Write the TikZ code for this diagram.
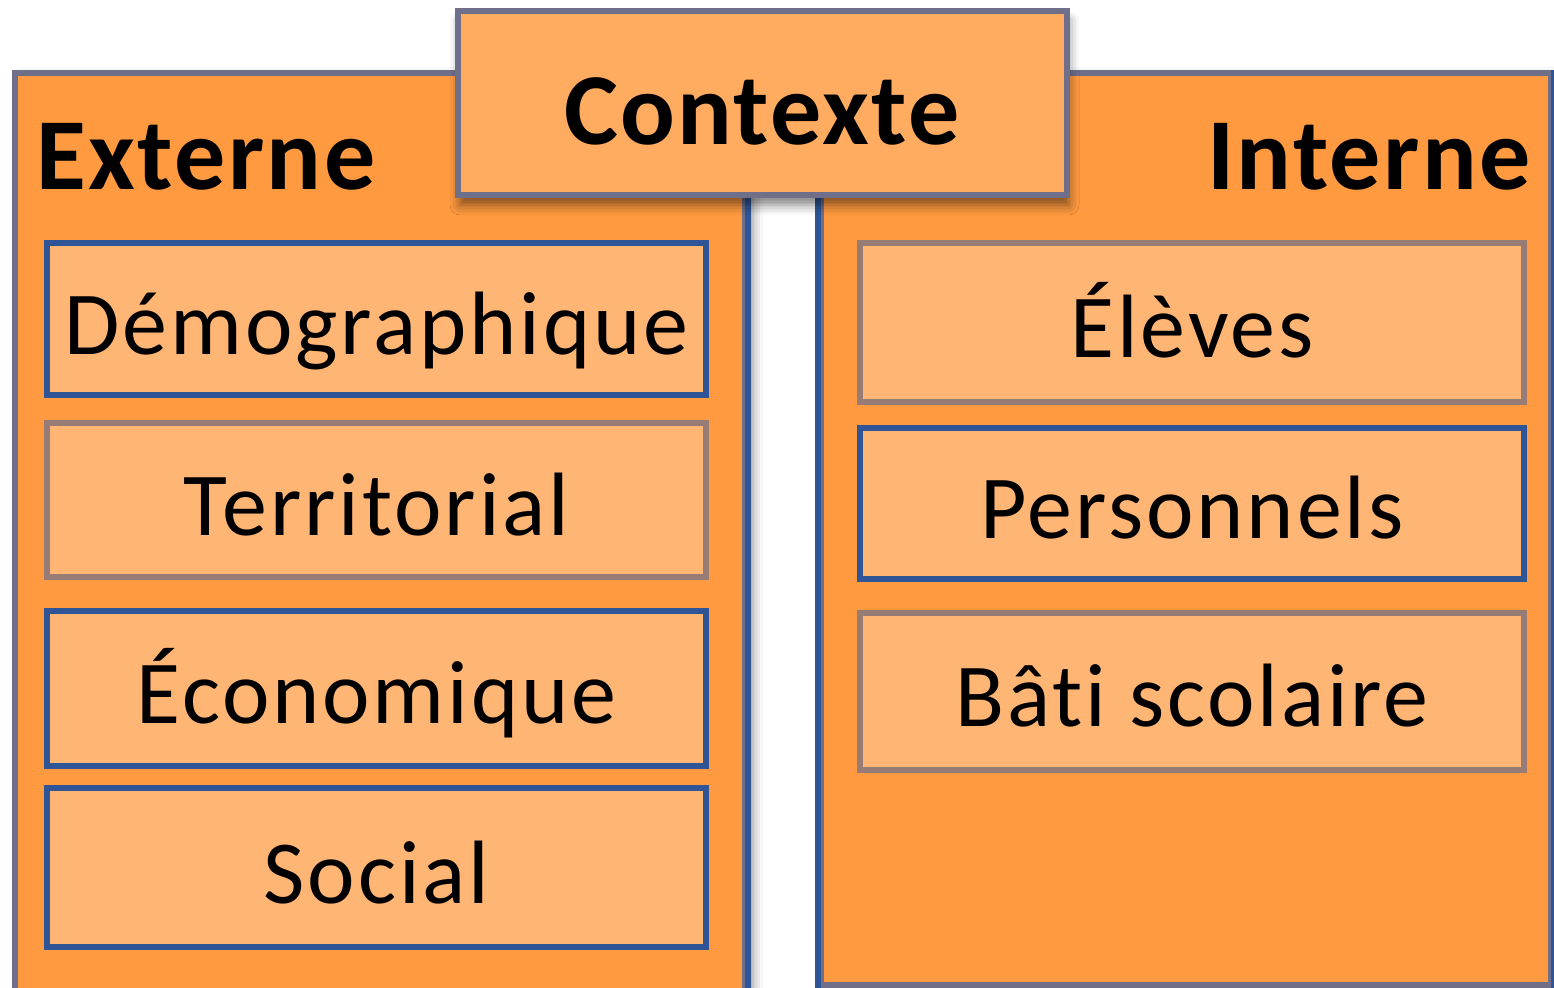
\documentclass[tikz,border=0pt]{standalone}
\usepackage{fontspec}
\setmainfont{Carlito}[Ligatures=NoCommon]
\newfontfamily\boxfont{Carlito}[LetterSpace=3.2, Ligatures=NoCommon]
\newfontfamily\headfont{Carlito}[LetterSpace=2.4, Ligatures=NoCommon]
\usetikzlibrary{shadows.blur}
\definecolor{panelfill}{HTML}{FF9A40}
\definecolor{ctxfill}{HTML}{FFAC60}
\definecolor{boxfill}{HTML}{FFB574}
\definecolor{bluebd}{HTML}{2F5597}
\definecolor{graybd}{HTML}{977C75}
\definecolor{panelbd}{HTML}{6F6F8A}
\tikzset{
  panel/.style={draw=panelbd, line width=3pt, fill=panelfill, inner sep=0pt,
    blur shadow={shadow xshift=4pt, shadow yshift=-2pt, shadow blur radius=5pt, shadow opacity=45}},
  ctxbox/.style={draw=panelbd, line width=3pt, fill=ctxfill, inner sep=0pt,
    blur shadow={shadow xshift=1pt, shadow yshift=-5pt, shadow blur radius=5pt, shadow opacity=50}},
  blueedge/.style={draw=bluebd, line width=3pt},
  itembox/.style={line width=3pt, fill=boxfill, inner sep=0pt,
    font=\boxfont\fontsize{45pt}{54pt}\selectfont, text height=35.5pt, text depth=0pt},
  headtext/.style={font=\headfont\fontsize{51pt}{60pt}\selectfont\bfseries, inner sep=0pt},
}
\begin{document}
\begin{tikzpicture}[x=0.5pt,y=-0.5pt]
\useasboundingbox (0,0) rectangle (1554,988);
\begin{scope}
\clip (0,0) rectangle (1554,988);
\node[panel, minimum width=365pt, minimum height=468.5pt] (ext) at (380,541.5) {};
\node[panel, minimum width=365pt, minimum height=456pt] (int) at (1186,529) {};
\draw[blueedge] (ext.north east) -- (ext.south east);
\draw[blueedge] (int.north west) -- (int.south west);
\draw[blueedge] (int.north east) -- (int.south east);
\node[ctxbox, minimum width=304.5pt, minimum height=92pt] (ctx) at (762.5,103) {};
\end{scope}
\node[headtext, anchor=base] (ctxlabel) at (762,145) {Contexte};
\node[headtext, anchor=base west] (extlabel) at (36,190) {Externe};
\node[headtext, anchor=base east] (intlabel) at (1531,190) {Interne};

\node[itembox, draw=bluebd, minimum width=329.5pt, minimum height=76pt] (demo) at (376.5,319) {Démographique};
\node[itembox, draw=graybd, minimum width=329.5pt, minimum height=77pt] (terr) at (376.5,500) {Territorial};
\node[itembox, draw=bluebd, minimum width=329.5pt, minimum height=77.5pt] (eco) at (376.5,688.5) {Économique};
\node[itembox, draw=bluebd, minimum width=329.5pt, minimum height=79.5pt] (soc) at (376.5,867.5) {Social};

\node[itembox, draw=graybd, minimum width=332pt, minimum height=79.5pt] (elev) at (1192,322.5) {Élèves};
\node[itembox, draw=bluebd, minimum width=332pt, minimum height=75.5pt] (pers) at (1192,503.5) {Personnels};
\node[itembox, draw=graybd, minimum width=332pt, minimum height=78.5pt] (bati) at (1192,691.5) {Bâti scolaire};
\end{tikzpicture}
\end{document}
